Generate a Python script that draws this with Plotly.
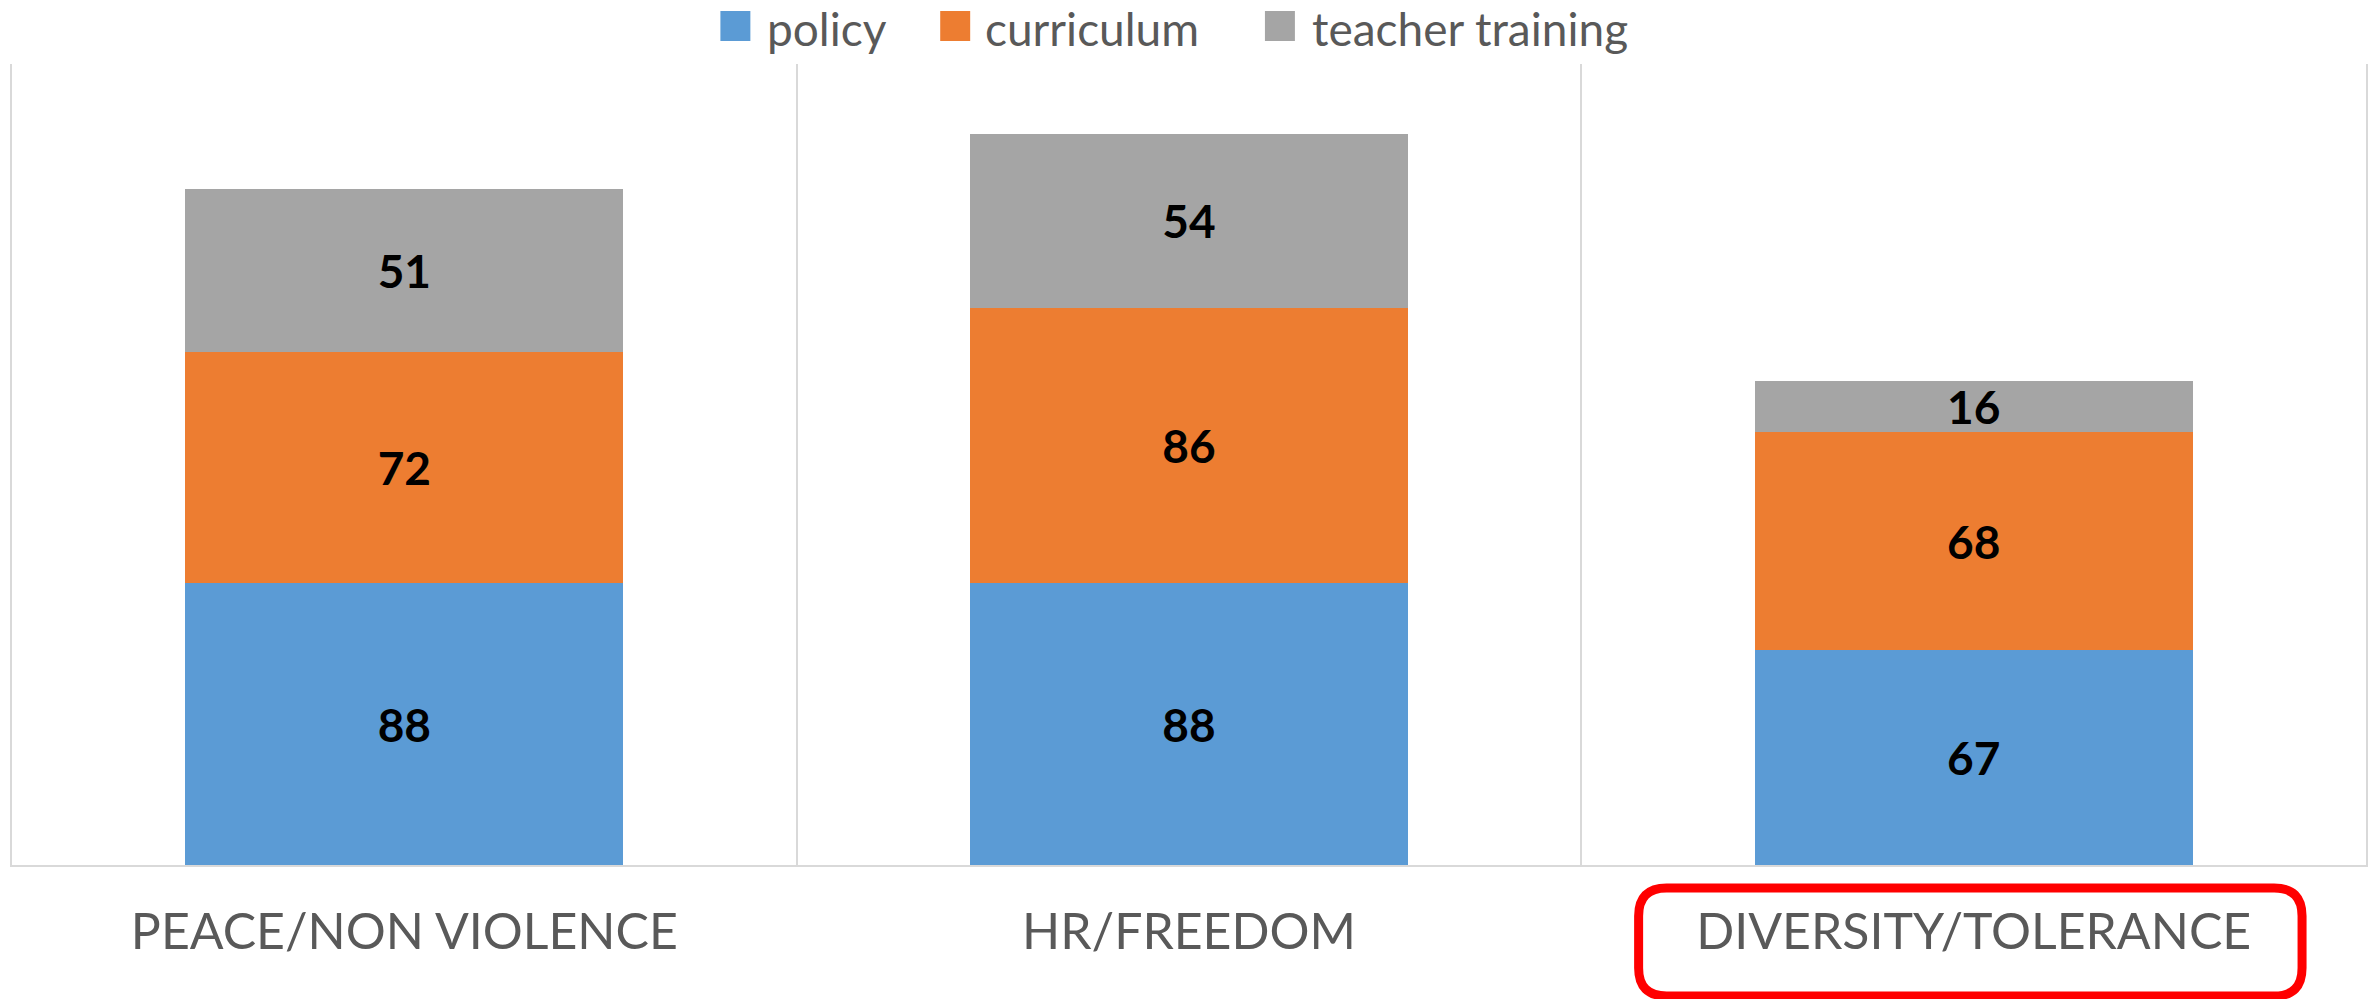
import plotly.graph_objects as go

categories = ["PEACE/NON VIOLENCE", "HR/FREEDOM", "DIVERSITY/TOLERANCE"]
series_names = ["policy", "curriculum", "teacher training"]
policy = [88, 88, 67]
curriculum = [72, 86, 68]
teacher_training = [51, 54, 16]
colors = ["#5B9BD5", "#ED7D31", "#A5A5A5"]

W, H = 2379, 999
ML, MR, MT, MB = 12, 11, 64, 134
PW = W - ML - MR
PH = H - MT - MB

def px2paper(px, py):
    return (px - ML) / PW, (H - MB - py) / PH

fig = go.Figure()
for name, vals, col in zip(series_names, [policy, curriculum, teacher_training], colors):
    fig.add_trace(go.Bar(
        x=categories, y=vals, name=name,
        marker=dict(color=col, line=dict(width=0)),
        text=vals, textposition="inside", insidetextanchor="middle",
        textangle=0, constraintext="none",
        textfont=dict(family="Lato", size=46, color="#000000", weight="bold"),
        showlegend=False,
    ))

# custom legend (squares + text) in the top margin
sq_left = [721, 941, 1266]
txt_left = [767, 985, 1312]
shapes = []
annotations = []
for name, col, sx, tx in zip(series_names, colors, sq_left, txt_left):
    x0, y0 = px2paper(sx, 41)
    x1, y1 = px2paper(sx + 30, 11)
    shapes.append(dict(type="rect", xref="paper", yref="paper", x0=x0, y0=y0, x1=x1, y1=y1,
                       fillcolor=col, line=dict(width=0)))
    ax, ay = px2paper(tx, 0)
    annotations.append(dict(text=name, xref="paper", yref="paper", x=ax, y=ay,
                            xanchor="left", yanchor="top", showarrow=False,
                            borderpad=0,
                            font=dict(family="Lato", size=46, color="#595959")))

# red rounded highlight box around the third category label
L, R, T, B, r = 1640, 2304, 888, 996, 28
def P(x, y):
    a, b = px2paper(x, y)
    return f"{a:.6f},{b:.6f}"
path = (f"M {P(L + r, T)} L {P(R - r, T)} Q {P(R, T)} {P(R, T + r)} "
        f"L {P(R, B - r)} Q {P(R, B)} {P(R - r, B)} L {P(L + r, B)} "
        f"Q {P(L, B)} {P(L, B - r)} L {P(L, T + r)} Q {P(L, T)} {P(L + r, T)} Z")
shapes.append(dict(type="path", xref="paper", yref="paper", path=path,
                   line=dict(color="#FF0000", width=9)))

fig.update_layout(
    width=W, height=H,
    barmode="stack", bargap=0.442,
    margin=dict(l=ML, r=MR, t=MT, b=MB),
    paper_bgcolor="white", plot_bgcolor="white",
    font=dict(family="Lato", color="#595959"),
    shapes=shapes, annotations=annotations,
    xaxis=dict(
        type="category", tickson="boundaries", showgrid=True,
        gridcolor="#D9D9D9", gridwidth=2,
        showline=True, linecolor="#D9D9D9", linewidth=2,
        ticks="", ticklabelstandoff=22,
        tickfont=dict(family="Lato", size=50, color="#595959"),
    ),
    yaxis=dict(range=[0, 250], showgrid=False, showticklabels=False,
               zeroline=False, showline=True, mirror=True,
               linecolor="#D9D9D9", linewidth=2),
)

fig.write_html("out.html", config={"displayModeBar": False},
               post_script="document.body.style.margin='0';document.body.style.padding='0';")
